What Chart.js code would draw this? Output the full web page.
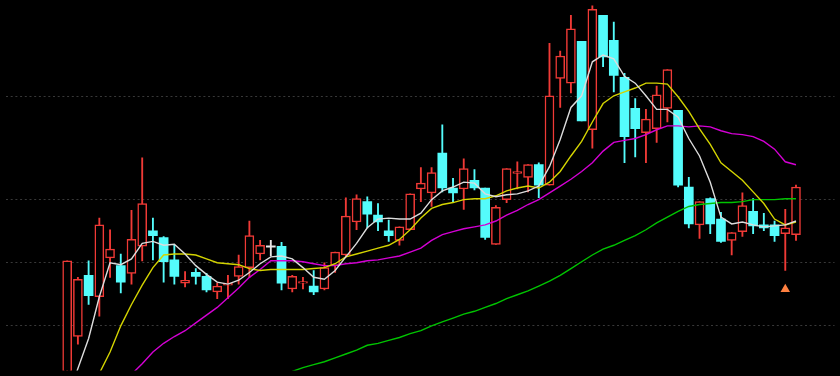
<!DOCTYPE html>
<html>
<head>
<meta charset="utf-8">
<title>K-line</title>
<script src="https://cdn.jsdelivr.net/npm/chart.js@4.4.0/dist/chart.umd.min.js"></script>
<style>
  html, body { margin:0; padding:0; background:#000; }
  canvas { display:block; }
</style>
</head>
<body>
<canvas id="kline" width="840" height="376"></canvas>
<script>
// ===== Data =====
const opens  = [9.05,11.75,14.90,13.80,15.80,15.40,15.00,16.40,17.20,16.85,
                15.70,14.50,15.05,14.85,14.05,14.40,14.85,15.30,16.00,16.35,
                16.40,14.20,14.50,14.35,14.20,15.40,15.95,17.65,18.70,18.00,
                17.20,16.70,17.25,19.35,19.15,21.20,19.40,19.35,19.80,19.40,
                16.50,18.80,20.15,19.95,20.60,19.55,25.05,24.80,26.95,22.40,
                28.30,27.00,25.10,23.50,22.25,22.45,23.50,23.40,19.45,17.50,
                18.85,17.80,16.70,17.15,18.20,17.50,17.50,17.05,17.00];
const highs  = [15.65,14.80,15.65,17.85,17.25,16.00,18.25,20.95,17.85,16.90,
                16.45,15.10,15.25,15.00,14.50,14.90,15.95,17.70,16.70,16.70,
                16.60,14.90,14.80,15.15,15.55,16.10,18.90,19.05,18.95,18.60,
                17.75,17.40,19.10,20.45,20.45,22.65,19.90,20.90,20.35,19.40,
                18.50,20.40,20.75,20.60,20.70,26.85,26.45,28.30,26.95,28.90,
                28.30,27.95,25.30,24.00,23.45,24.65,25.50,23.40,19.95,18.70,
                18.90,18.15,17.10,19.15,18.85,18.10,17.70,18.30,19.55];
const lows   = [8.80,11.35,13.40,12.80,14.80,14.00,14.45,15.65,15.70,14.55,
                14.45,14.30,14.45,14.05,13.70,13.70,14.45,14.80,15.70,15.90,
                14.15,14.05,14.20,13.90,14.15,15.05,15.85,17.25,17.35,17.20,
                16.65,16.45,17.25,18.70,18.45,19.20,18.65,18.30,19.30,16.75,
                16.50,18.65,19.35,19.20,18.90,19.55,23.55,24.30,22.85,21.45,
                25.65,24.35,20.70,21.00,20.70,21.75,22.80,19.45,17.35,16.80,
                17.05,16.60,15.95,16.90,17.05,17.20,16.65,15.15,16.70];
const closes = [15.65,14.70,13.85,17.50,16.25,14.55,16.75,18.60,16.95,15.60,
                14.85,14.65,14.85,14.15,14.35,14.50,15.35,16.95,16.45,16.35,
                14.50,14.85,14.55,14.05,15.30,16.10,17.95,18.85,18.05,17.65,
                16.95,17.40,19.10,19.65,20.20,19.40,19.15,20.40,19.40,16.85,
                18.40,20.40,20.25,20.60,19.55,24.15,26.20,27.60,22.85,28.60,
                26.15,25.20,22.05,22.45,22.95,24.20,25.50,19.55,17.55,18.70,
                17.55,16.65,17.10,18.50,17.45,17.35,16.95,17.35,19.45];

const ma5  = [8.55,10.10,11.65,13.80,15.55,15.45,15.75,16.55,16.65,16.45,
              16.50,16.00,15.40,14.95,14.55,14.45,14.65,15.05,15.50,15.85,
              15.90,15.75,15.30,14.80,14.70,15.15,15.85,16.55,17.35,17.80,
              17.85,17.80,17.80,18.10,18.80,19.25,19.45,19.70,19.65,19.10,
              18.95,19.05,19.10,19.25,19.50,20.50,21.90,23.55,24.15,25.90,
              26.25,26.05,25.15,24.80,24.15,23.45,23.45,23.05,21.95,21.05,
              19.70,17.90,17.55,17.65,17.50,17.40,17.45,17.50,17.70];
const ma10 = [6.75,7.85,8.90,9.85,10.95,12.30,13.40,14.40,15.30,15.95,
              16.00,16.00,15.95,15.75,15.55,15.50,15.45,15.25,15.15,15.20,
              15.20,15.20,15.20,15.25,15.30,15.50,15.85,16.00,16.15,16.30,
              16.45,16.75,17.25,17.85,18.35,18.55,18.65,18.80,18.85,18.85,
              19.00,19.25,19.40,19.50,19.40,19.70,20.25,21.05,21.80,22.80,
              23.75,24.15,24.35,24.55,24.80,24.80,24.75,24.10,23.35,22.45,
              21.65,20.70,20.25,19.80,19.20,18.60,17.80,17.50,17.65];
const ma20 = [6.55,7.10,7.65,8.20,8.75,9.30,9.80,10.35,10.95,11.40,
              11.75,12.05,12.45,12.85,13.25,13.75,14.25,14.80,15.20,15.65,
              15.65,15.65,15.60,15.50,15.40,15.40,15.50,15.55,15.65,15.70,
              15.80,15.90,16.10,16.30,16.70,17.00,17.15,17.30,17.40,17.50,
              17.70,18.00,18.25,18.55,18.80,19.15,19.50,19.85,20.25,20.70,
              21.30,21.75,21.85,21.95,22.15,22.40,22.60,22.60,22.55,22.60,
              22.55,22.35,22.20,22.15,22.05,21.80,21.40,20.75,20.60];
const ma60 = [null,null,null,null,null,null,null,null,null,null,
              null,null,null,null,null,null,null,null,null,9.60,
              9.80,9.95,10.15,10.30,10.45,10.65,10.85,11.05,11.30,11.40,
              11.55,11.70,11.90,12.05,12.30,12.50,12.70,12.90,13.05,13.25,
              13.45,13.70,13.90,14.10,14.35,14.60,14.90,15.25,15.60,15.95,
              16.25,16.45,16.70,16.95,17.25,17.60,17.90,18.20,18.45,18.55,
              18.60,18.65,18.65,18.70,18.80,18.80,18.80,18.85,18.85];

const gridLevels  = [12.325, 15.575, 18.825, 24.125];
const signalIdx   = [67];
const signalPrice = [14.18];

// ===== Colors =====
const UP = '#f03a36', DOWN = '#54fcfc', FLAT = '#e8e8e8';

function candleColor(i){
  if(closes[i] > opens[i]) return UP;
  if(closes[i] < opens[i]) return DOWN;
  return FLAT;
}

const wicks  = highs.map((h,i) => ({x:i, y:[lows[i], h]}));
const bodies = opens.map((o,i) => ({x:i, y:[o, closes[i]]}));
const toLine = arr => arr.map((v,i) => ({x:i, y:v}));
const maLine = (arr, color) => ({
  type:'line', data:toLine(arr), borderColor:color, borderWidth:1.4,
  pointRadius:0, tension:0, order:1
});

// ===== Chart =====
new Chart(document.getElementById('kline'), {
  data:{
    datasets:[
      {type:'bar', data:wicks, barThickness:1.2, grouped:false,
       backgroundColor: c => candleColor(c.dataIndex), order:3},
      {type:'bar', data:bodies, barThickness:9, grouped:false, minBarLength:1.5,
       borderSkipped:false,
       borderWidth: c => closes[c.dataIndex] > opens[c.dataIndex] ? 1.5 : 0,
       borderColor: c => candleColor(c.dataIndex),
       backgroundColor: c => closes[c.dataIndex] > opens[c.dataIndex] ? '#000' : candleColor(c.dataIndex),
       order:2},
      maLine(ma5,  '#dcdcdc'),
      maLine(ma10, '#d4d400'),
      maLine(ma20, '#d400d4'),
      maLine(ma60, '#00c400'),
      {type:'scatter', data:signalIdx.map((k,j) => ({x:k, y:signalPrice[j]})),
       pointStyle:'triangle', pointRadius:5.5, backgroundColor:'#ff8040',
       borderWidth:0, order:0}
    ]
  },
  options:{
    responsive:false,
    animation:false,
    layout:{padding:0},
    plugins:{legend:{display:false}, tooltip:{enabled:false}},
    scales:{
      x:{type:'linear', min:-5.755, max:71.593, offset:false, display:false},
      y:{
        type:'linear', min:10, max:28.8,
        afterBuildTicks: axis => { axis.ticks = gridLevels.map(v => ({value:v})); },
        ticks:{display:false},
        grid:{color:'#383838', lineWidth:1, drawTicks:false},
        border:{display:false, dash:[2,2.7]}
      }
    }
  }
});
</script>
</body>
</html>
